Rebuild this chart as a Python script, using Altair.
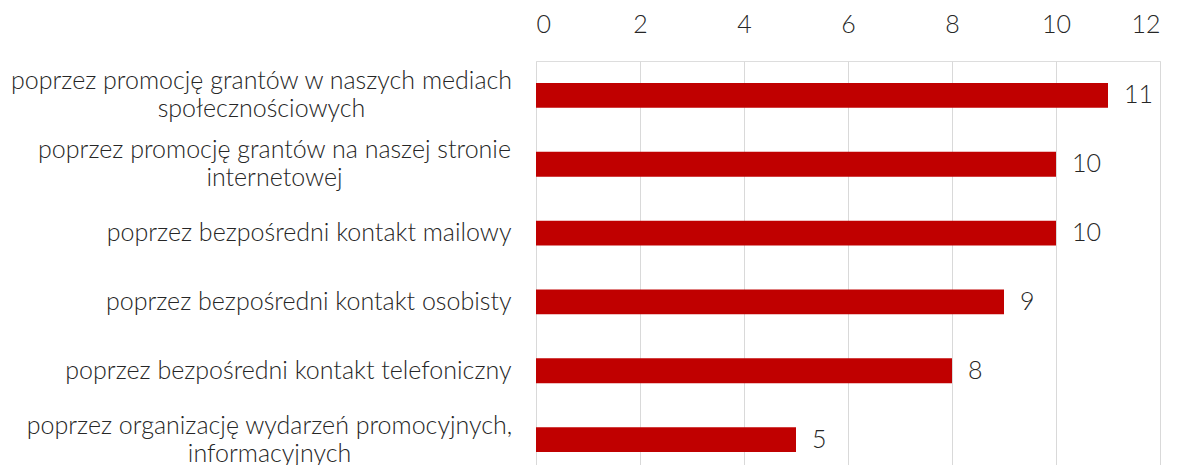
import altair as alt
import pandas as pd

categories = [
    "poprzez promocję grantów w naszych mediach\nspołecznościowych",
    "poprzez promocję grantów na naszej stronie\ninternetowej",
    "poprzez bezpośredni kontakt mailowy",
    "poprzez bezpośredni kontakt osobisty",
    "poprzez bezpośredni kontakt telefoniczny",
    "poprzez organizację wydarzeń promocyjnych,\ninformacyjnych",
]
values = [11, 10, 10, 9, 8, 5]
x_ticks = [0, 2, 4, 6, 8, 10, 12]

df = pd.DataFrame({"cat": categories, "val": values})

FONT = "Lato"
FS = 25
TXT = "#262626"

multi = "indexof(datum.value, '\\n') >= 0"

y_enc = alt.Y(
    "cat:N",
    sort=None,
    title=None,
    scale=alt.Scale(paddingInner=0.64, paddingOuter=0.32),
    axis=alt.Axis(
        domain=False,
        ticks=False,
        grid=False,
        labelExpr="split(datum.label, '\\n')",
        labelFont=FONT,
        labelFontSize=FS,
        labelFontWeight=300,
        labelColor=TXT,
        labelLineHeight=28,
        labelLimit=600,
        labelAlign={"condition": {"test": multi, "value": "center"}, "value": "right"},
        labelOffset={"condition": {"test": multi, "value": -14}, "value": 0},
        labelPadding={
            "condition": [
                {"test": "indexof(datum.value, 'mediach') >= 0", "value": 275},
                {"test": "indexof(datum.value, 'stronie') >= 0", "value": 262},
                {"test": "indexof(datum.value, 'wydarzeń') >= 0", "value": 267},
            ],
            "value": 25,
        },
    ),
)

x_enc = alt.X(
    "val:Q",
    title=None,
    scale=alt.Scale(domain=[0, 12], nice=False),
    axis=alt.Axis(
        orient="top",
        values=x_ticks,
        domain=False,
        ticks=False,
        grid=True,
        gridColor="#d9d9d9",
        gridWidth=1,
        labelFont=FONT,
        labelFontSize=FS,
        labelFontWeight=300,
        labelColor=TXT,
        labelPadding=24,
    ),
)

base = alt.Chart(df)
bars = base.mark_bar(color="#C00000").encode(x=x_enc, y=y_enc)
labels = base.mark_text(
    align="left", baseline="middle", dx=16, font=FONT, fontSize=FS, fontWeight=300, color=TXT
).encode(x="val:Q", y=alt.Y("cat:N", sort=None), text="val:Q")

chart = (
    alt.layer(bars, labels)
    .properties(
        width=624,
        height=413,
        autosize=alt.AutoSizeParams(type="none"),
        padding={"left": 528, "top": 53, "right": 12, "bottom": 0},
    )
    .configure_view(stroke=None)
    .configure(background="white")
)

chart.save("out.html", embed_options={"renderer": "svg", "actions": False})
